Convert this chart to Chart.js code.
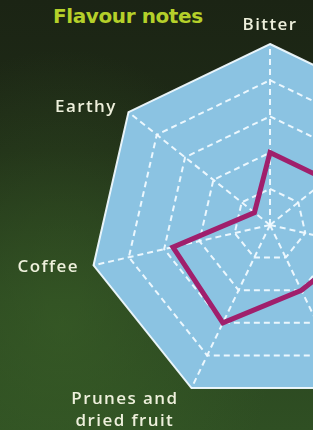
<!DOCTYPE html>
<html>
<head>
<meta charset="utf-8">
<script src="https://cdn.jsdelivr.net/npm/chart.js@4/dist/chart.umd.min.js"></script>
<style>
  html, body {
    margin: 0;
    padding: 0;
    width: 313px;
    height: 430px;
    overflow: hidden;
  }
  body {
    position: relative;
    background:
      radial-gradient(ellipse at 20% 75%, rgba(60, 100, 40, 0.55), rgba(60, 100, 40, 0) 60%),
      linear-gradient(180deg, #1b2414 0%, #1f2c17 35%, #2a4420 70%, #2f4f23 100%);
  }
  #title {
    position: absolute;
    left: 53px;
    top: 4px;
    font: bold 20px 'DejaVu Sans', sans-serif;
    letter-spacing: -0.4px;
    color: #b5d02a;
  }
  #chart {
    position: absolute;
    left: 0;
    top: 0;
  }
</style>
</head>
<body>
<div id="title">Flavour notes</div>
<canvas id="chart" width="540" height="430"></canvas>
<script>
// axes run clockwise from the top; the right-hand ones fall outside the crop
const flavourLabels = [
  'Bitter',
  'Chocolate',
  'Spicy',
  'Smoky',
  ['Prunes and', 'dried fruit'],
  'Coffee',
  'Earthy',
];
const flavourScores = [2, 2, 2.5, 2, 3, 2.75, 0.55];
const scaleMin = 0;
const scaleMax = 5;
const scaleStep = 1;

const colours = {
  fill: '#8bc3e2',
  grid: 'rgba(240, 250, 255, 0.95)',
  line: '#a01f6c',
  label: '#eef0dc',
};

// draws the axis names just outside each corner of the polygon
const outerLabelPlugin = {
  id: 'outerLabels',
  afterDraw(chart, args, opts) {
    const scale = chart.scales.r;
    const { ctx } = chart;
    const lineHeight = opts.lineHeight;

    ctx.save();
    ctx.font = opts.font;
    ctx.fillStyle = opts.color;
    if ('letterSpacing' in ctx) ctx.letterSpacing = opts.letterSpacing;
    ctx.textAlign = 'center';
    ctx.textBaseline = 'middle';

    scale.getLabels().forEach((label, i) => {
      const lines = Array.isArray(label) ? label : [label];
      const corner = scale.getPointPosition(i, scale.drawingArea);
      const dirX = (corner.x - scale.xCenter) / scale.drawingArea;
      const dirY = (corner.y - scale.yCenter) / scale.drawingArea;
      const width = Math.max(...lines.map((l) => ctx.measureText(l).width));
      const blockHeight = lines.length * lineHeight;

      const lower = dirY > 0.5;
      const anchorX = corner.x + dirX * (lower ? opts.padXLower : opts.padX);
      let left;
      if (Math.abs(dirX) < 0.05) left = anchorX - width / 2;
      else if (dirX < 0) left = anchorX - width;
      else left = anchorX;

      let top;
      if (dirY < -0.9) top = corner.y - opts.padY - blockHeight;
      else if (lower) top = corner.y;
      else top = corner.y + dirY * opts.padY - blockHeight / 2;

      lines.forEach((line, k) => {
        ctx.fillText(line, left + width / 2, top + lineHeight * (k + 0.5));
      });
    });

    ctx.restore();
  },
};

new Chart(document.getElementById('chart'), {
  type: 'radar',
  data: {
    labels: flavourLabels,
    datasets: [
      {
        label: 'Flavour notes',
        data: flavourScores,
        borderColor: colours.line,
        borderWidth: 5,
        backgroundColor: 'rgba(0,0,0,0)',
        fill: false,
        pointRadius: 0,
        tension: 0,
      },
    ],
  },
  plugins: [outerLabelPlugin],
  options: {
    responsive: false,
    animation: false,
    layout: {
      padding: { left: 89, right: 89, top: 44, bottom: 24 },
    },
    scales: {
      r: {
        min: scaleMin,
        max: scaleMax,
        backgroundColor: colours.fill,
        ticks: { display: false, stepSize: scaleStep },
        pointLabels: { display: false },
        grid: {
          color: colours.grid,
          lineWidth: 2,
        },
        border: {
          dash: (ctx) => (ctx.index === 5 ? [] : [6, 4]),
        },
        angleLines: {
          color: colours.grid,
          lineWidth: 2,
          borderDash: [6, 4],
        },
      },
    },
    plugins: {
      legend: { display: false },
      tooltip: { enabled: false },
      outerLabels: {
        font: '600 17px "Open Sans", sans-serif',
        letterSpacing: '1.4px',
        color: colours.label,
        lineHeight: 22,
        padX: 15,
        padXLower: 30,
        padY: 8,
      },
    },
  },
});
</script>
</body>
</html>
